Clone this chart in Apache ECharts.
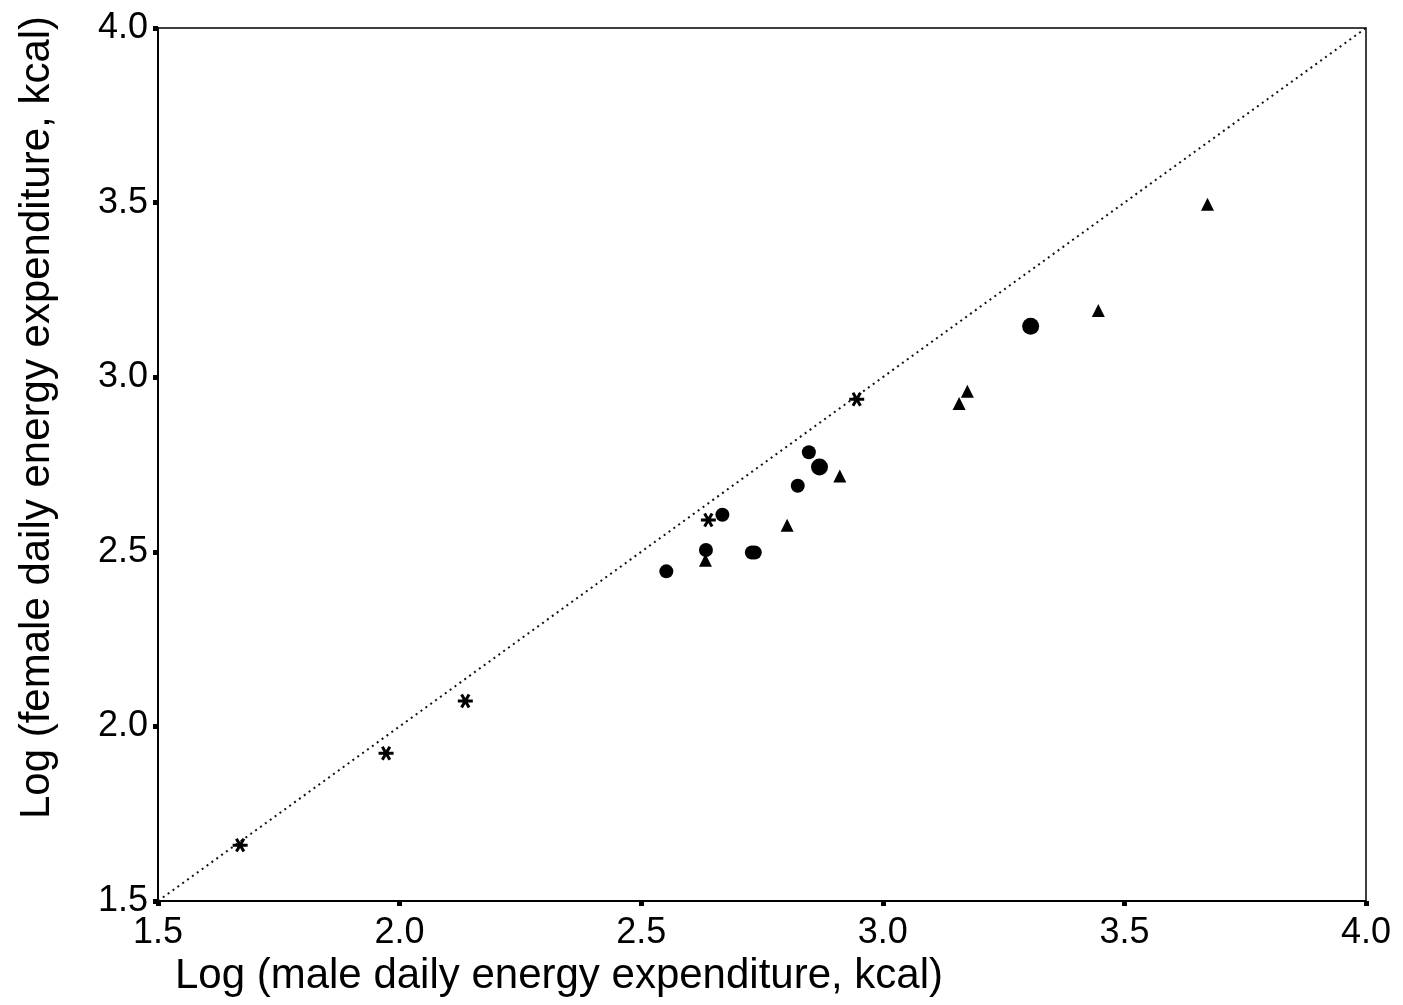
<!DOCTYPE html>
<html>
<head>
<meta charset="utf-8">
<script src="https://cdn.jsdelivr.net/npm/echarts@6/dist/echarts.min.js"></script>
<style>
html,body{margin:0;padding:0;background:#fff;}
#chart{width:1403px;height:1005px;}
</style>
</head>
<body>
<div id="chart"></div>
<script>
// ---- data ----
const xTicks = [1.5, 2.0, 2.5, 3.0, 3.5, 4.0];
const yTicks = [1.5, 2.0, 2.5, 3.0, 3.5, 4.0];
const identityLine = [1.5, 4.0];

const starsX = [1.670, 1.972, 2.136, 2.639, 2.946];
const starsY = [1.660, 1.923, 2.073, 2.591, 2.937];

const trianglesX = [2.633, 2.802, 2.911, 3.158, 3.175, 3.446, 3.672];
const trianglesY = [2.476, 2.576, 2.717, 2.925, 2.960, 3.191, 3.495];

const circlesSmallX = [2.552, 2.634, 2.668, 2.729, 2.735, 2.824, 2.847];
const circlesSmallY = [2.444, 2.505, 2.606, 2.498, 2.498, 2.689, 2.785];

const circlesLargeX = [2.869, 3.306];
const circlesLargeY = [2.743, 3.146];

const xTitle = 'Log (male daily energy expenditure, kcal)';
const yTitle = 'Log (female daily energy expenditure, kcal)';

// ---- build ----
const pair = (xs, ys) => xs.map((x, i) => [x, ys[i]]);
const starPath = 'path://M-10,-2 L10,-2 L10,2 L-10,2 Z ' +
  'M3.27,9.66 L-6.73,-7.66 L-3.27,-9.66 L6.73,7.66 Z ' +
  'M-6.73,7.66 L3.27,-9.66 L6.73,-7.66 L-3.27,9.66 Z';

const FONT = 'Liberation Sans, Arial, sans-serif';
const chart = echarts.init(document.getElementById('chart'), null, {renderer: 'canvas'});
chart.setOption({
  backgroundColor: '#ffffff',
  animation: false,
  grid: {
    left: 158, right: 37, top: 28, bottom: 104,
    show: true, borderColor: '#000', borderWidth: 1.5, backgroundColor: 'transparent'
  },
  xAxis: {
    type: 'value', min: xTicks[0], max: xTicks[xTicks.length - 1], interval: 0.5,
    splitLine: {show: false},
    axisLine: {show: true, lineStyle: {color: '#000', width: 2}},
    axisTick: {show: true, inside: false, length: 5, lineStyle: {color: '#000', width: 5}},
    axisLabel: {
      color: '#000', fontFamily: FONT, fontSize: 36, margin: 14,
      formatter: v => v.toFixed(1)
    },
    name: xTitle, nameLocation: 'middle', nameGap: 52,
    nameTextStyle: {color: '#000', fontFamily: FONT, fontSize: 42, padding: [0, 406, 0, 0]}
  },
  yAxis: {
    type: 'value', min: yTicks[0], max: yTicks[yTicks.length - 1], interval: 0.5,
    splitLine: {show: false},
    axisLine: {show: true, lineStyle: {color: '#000', width: 2}},
    axisTick: {show: true, inside: false, length: 5, lineStyle: {color: '#000', width: 5}},
    axisLabel: {
      color: '#000', fontFamily: FONT, fontSize: 36, margin: 10,
      formatter: v => v.toFixed(1)
    },
    name: yTitle, nameLocation: 'middle', nameGap: 100, nameRotate: 90,
    nameTextStyle: {color: '#000', fontFamily: FONT, fontSize: 42, padding: [0, 0, 0, 94]}
  },
  series: [
    {
      type: 'line', data: identityLine.map(v => [v, v]), symbol: 'none',
      lineStyle: {color: '#111', width: 2, type: [2, 4]}, z: 1, silent: true
    },
    {
      type: 'scatter', data: pair(starsX, starsY), symbol: starPath, symbolKeepAspect: true,
      symbolSize: 15, itemStyle: {color: '#000', opacity: 1}, z: 3
    },
    {
      type: 'scatter', data: pair(trianglesX, trianglesY), symbol: 'triangle',
      symbolSize: 13, itemStyle: {color: '#000', opacity: 1}, z: 3
    },
    {
      type: 'scatter', data: pair(circlesSmallX, circlesSmallY), symbol: 'circle',
      symbolSize: 14, itemStyle: {color: '#000', opacity: 1}, z: 4
    },
    {
      type: 'scatter', data: pair(circlesLargeX, circlesLargeY), symbol: 'circle',
      symbolSize: 17, itemStyle: {color: '#000', opacity: 1}, z: 4
    }
  ]
});
</script>
</body>
</html>
